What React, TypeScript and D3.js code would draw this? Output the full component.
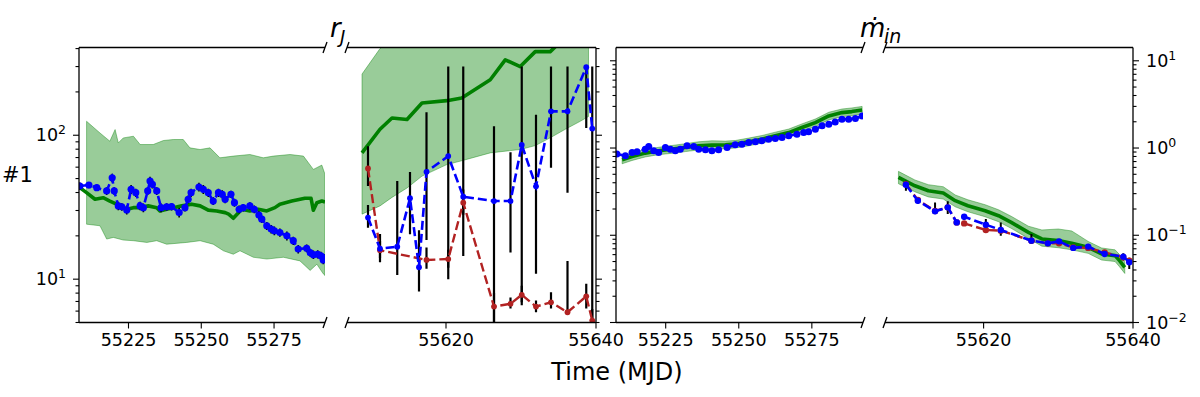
import React from "react";
import * as d3 from "d3";

// ---- r_J, first window (MJD 55208 - 55292) ----
const rjEarlyDates = [
  55208.3, 55211.4, 55214.1, 55217.5, 55219.4, 55220.1, 55221.5, 55222.7, 55224.4, 55225.9,
  55227.5, 55229.0, 55230.1, 55231.6, 55232.4, 55233.2, 55234.7, 55236.2, 55238.1, 55239.8,
  55242.4, 55244.4, 55245.5, 55246.5, 55249.2, 55250.7, 55252.4, 55254.1, 55255.9, 55257.2,
  55258.2, 55260.2, 55261.4, 55263.0, 55264.4, 55266.7, 55268.2, 55269.8, 55270.8, 55272.5,
  55274.0, 55275.1, 55277.0, 55279.4, 55281.6, 55283.3, 55286.2, 55287.4, 55288.5, 55290.0,
  55291.1, 55291.9, 55292.4,
];
const rjEarly = [
  44.4, 45.1, 43.2, 41.0, 50.6, 41.0, 32.3, 31.8, 30.3, 42.1,
  39.9, 32.3, 31.4, 41.0, 48.0, 45.6, 41.0, 31.4, 31.8, 31.9,
  29.0, 31.4, 35.9, 39.9, 43.7, 42.1, 39.9, 34.9, 39.9, 38.9,
  35.9, 38.9, 34.0, 30.6, 31.4, 32.3, 30.6, 27.9, 26.1, 23.5,
  22.3, 21.7, 21.1, 20.0, 18.5, 16.2, 16.4, 15.3, 14.8, 14.9,
  14.5, 13.6, 14.0,
];
const rjEarlyErr = [
  2.6, 2.2, 2.2, 2.6, 3.4, 2.6, 2.2, 1.9, 2.2, 3.0,
  2.6, 2.2, 2.2, 2.6, 3.4, 3.0, 2.6, 2.2, 1.9, 1.9,
  2.2, 1.9, 2.2, 2.6, 3.0, 3.0, 2.6, 2.2, 2.6, 2.6,
  2.2, 2.2, 2.2, 1.9, 1.9, 1.9, 1.9, 1.9, 1.5, 1.5,
  1.5, 1.5, 1.4, 1.4, 1.2, 1.1, 1.0, 1.0, 1.0, 1.0,
  1.0, 0.9, 0.9,
];
const rjEarlyModelDates = [
  55208.3, 55210.6, 55213.5, 55216.3, 55218.6, 55220.9, 55224.4, 55226.7, 55229.0, 55231.8,
  55234.7, 55235.8, 55238.1, 55240.4, 55243.3, 55246.7, 55249.6, 55252.4, 55255.3, 55258.2,
  55259.4, 55261.0, 55263.9, 55266.7, 55269.6, 55272.5, 55275.3, 55277.0, 55281.1, 55285.6,
  55287.7, 55288.5, 55289.7, 55291.4, 55292.5,
];
const rjEarlyModel = [
  43.2, 39.9, 35.9, 36.8, 34.9, 33.2, 30.6, 31.4, 31.4, 32.3,
  31.4, 29.8, 30.6, 31.4, 32.3, 33.2, 32.3, 30.2, 29.8, 29.0,
  28.3, 26.5, 30.6, 29.8, 30.6, 29.8, 31.4, 33.2, 34.9, 36.5,
  36.5, 30.1, 34.0, 34.9, 34.4,
];
const rjEarlyUpDates = [
  55210.6, 55215.2, 55218.6, 55220.4, 55221.5, 55223.2, 55226.7, 55229.0, 55233.5, 55237.0,
  55240.4, 55243.8, 55246.1, 55249.6, 55253.0, 55256.4, 55261.0, 55266.7, 55271.3, 55274.7,
  55280.5, 55285.1, 55288.5, 55291.4, 55292.5,
];
const rjEarlyUp = [
  125, 103.7, 90.9, 109.5, 88.5, 95.8, 98.4, 86.2, 86.2, 91.9,
  93.4, 93.4, 81.7, 79.6, 81.7, 69.7, 71.6, 73.5, 69.7, 71.6,
  73.5, 71.6, 57.9, 62.0, 53.5,
];
const rjEarlyLoDates = [
  55210.6, 55215.2, 55217.5, 55219.8, 55223.2, 55226.7, 55231.3, 55234.7, 55238.1, 55245.0,
  55249.6, 55254.1, 55257.6, 55261.0, 55263.3, 55267.9, 55272.5, 55278.2, 55283.9, 55287.4,
  55289.7, 55291.9, 55292.5,
];
const rjEarlyLo = [
  24.1, 23.5, 19.0, 19.5, 18.7, 18.5, 18.0, 18.5, 17.5, 18.0,
  18.5, 17.5, 15.75, 14.9, 15.75, 14.2, 13.8, 14.2, 13.4, 11.5,
  12.7, 10.9, 10.6,
];

// ---- second window (MJD 55607 - 55640), shared observation dates ----
const lateDates = [
  55609.6, 55611.2, 55613.5, 55615.2, 55616.4, 55617.4, 55620.3, 55622.3,
  55626.4, 55628.6, 55630.1, 55632.0, 55634.0, 55636.2, 55638.7, 55639.5,
];
const rjLate = [26.8, 16.3, 16.8, 36.5, 12.1, 55.7, 71.6, 37.4, 34.9, 34.9, 85.7, 44.2, 146.6, 146.6, 297, 111.2];
const rjLateLo = [22.8, 13.1, 10.7, 20.5, 8.2, 18.7, 10.0, 14.5, 4.0, 15.3, 6.9, 10.9, 59.4, 39.9, 112.3, 4.0];
const rjLateHi = [32.8, 20.6, 48.0, 55.5, 21.9, 144.3, 300, 300, 115.4, 76.3, 300, 139, 300, 300, 300, 300];

const rjLateRedDates = [
  55609.6, 55611.2, 55617.4, 55620.3, 55622.3, 55626.4, 55628.6,
  55630.1, 55632.0, 55634.0, 55636.2, 55638.7, 55639.5,
];
const rjLateRed = [58.8, 15.9, 13.6, 13.8, 34.0, 6.45, 6.74, 7.78, 6.45, 6.9, 5.89, 7.6, 5.16];
const rjLateRedLo = [44.4, 14.0, 11.8, 12.0, 28.0, 4.0, 6.25, 6.6, 5.89, 6.25, 5.89, 6.25, 4.0];
const rjLateRedHi = [83.9, 18.5, 16.6, 16.0, 42.0, 8.0, 7.45, 9.0, 7.1, 8.1, 13.4, 9.3, 6.2];

const rjLateModelDates = [
  55608.8, 55611.2, 55612.8, 55614.8, 55616.8, 55620.1, 55622.1, 55625.9,
  55627.9, 55629.9, 55631.9, 55633.9, 55635.9, 55637.9, 55639.0,
];
const rjLateModel = [75.4, 110, 131.8, 128.5, 167.3, 173.9, 181.2, 242.9, 334, 300, 381, 381, 480, 560, 600];
const rjLateModelLo = [28.3, 32.3, 37, 43, 52, 62.5, 66.5, 75.4, 77.5, 79.6, 84.7, 96, 110, 125, 135];
const rjLateModelHi = [266, 400, 480, 560, 640, 760, 820, 940, 1000, 1050, 1100, 1150, 1200, 1250, 1300];

// ---- mdot_in, first window ----
const mdotEarlyDates = [
  55208.3, 55211.2, 55213.5, 55215.2, 55218.0, 55219.2, 55220.9, 55222.6, 55224.9, 55226.6,
  55228.3, 55230.0, 55232.3, 55234.6, 55236.3, 55238.6, 55240.8, 55243.1, 55246.0, 55248.8,
  55251.1, 55253.4, 55255.7, 55257.9, 55260.2, 55262.5, 55264.8, 55267.1, 55269.9, 55272.2,
  55273.9, 55276.2, 55278.5, 55280.8, 55283.0, 55285.3, 55287.6, 55289.9, 55292.2,
];
const mdotEarly = [
  0.852, 0.814, 0.888, 0.905, 0.971, 1.04, 0.929, 0.888, 1.013, 0.971,
  0.929, 0.971, 1.06, 1.04, 0.971, 0.954, 0.929, 0.954, 1.013, 1.088,
  1.108, 1.156, 1.178, 1.209, 1.264, 1.284, 1.318, 1.379, 1.442, 1.504,
  1.532, 1.645, 1.795, 1.877, 1.994, 2.141, 2.141, 2.175, 2.335,
];
const mdotEarlyModelDates = [
  55210.1, 55213.5, 55218.0, 55222.6, 55227.2, 55231.7, 55236.3, 55240.8, 55245.4, 55248.8,
  55253.4, 55257.9, 55262.5, 55267.1, 55271.6, 55276.2, 55280.8, 55285.3, 55288.7, 55292.2,
];
const mdotEarlyModel = [
  0.733, 0.799, 0.874, 0.929, 0.971, 1.013, 1.06, 1.08, 1.088, 1.108,
  1.178, 1.264, 1.379, 1.504, 1.717, 1.958, 2.335, 2.548, 2.616, 2.735,
];
const mdotEarlyModelLo = [
  0.66, 0.72, 0.79, 0.84, 0.87, 0.91, 0.95, 0.97, 0.98, 1.0,
  1.06, 1.14, 1.24, 1.35, 1.55, 1.76, 2.1, 2.29, 2.35, 2.46,
];
const mdotEarlyModelHi = [
  0.81, 0.88, 0.96, 1.02, 1.07, 1.12, 1.18, 1.21, 1.2, 1.22,
  1.3, 1.39, 1.52, 1.65, 1.89, 2.15, 2.57, 2.8, 2.88, 3.0,
];

// ---- mdot_in, second window ----
const mdotLate = [0.379, 0.249, 0.188, 0.209, 0.1405, 0.163, 0.1322, 0.115, 0.0868, 0.0808, 0.0852, 0.0716, 0.0741, 0.0611, 0.0569, 0.049];
const mdotLateLo = [0.324, 0.23, 0.175, 0.175, 0.13, 0.15, 0.118, 0.0989, 0.0795, 0.077, 0.08, 0.069, 0.0685, 0.057, 0.0512, 0.0411];
const mdotLateHi = [0.421, 0.27, 0.238, 0.245, 0.15, 0.175, 0.1537, 0.1405, 0.1035, 0.085, 0.09, 0.075, 0.078, 0.065, 0.062, 0.0554];
const mdotLateRed = [0.386, 0.2535, 0.19, 0.209, 0.1405, 0.1368, 0.115, 0.1129, 0.0868, 0.0808, 0.0808, 0.0727, 0.0716, 0.0637, 0.0559, 0.0512];

const mdotLateModelDates = [
  55608.6, 55610.8, 55612.6, 55614.6, 55616.2, 55617.9, 55620.2, 55622.0, 55623.7,
  55626.0, 55627.8, 55630.0, 55631.8, 55634.0, 55635.8, 55637.6, 55638.2, 55638.9,
];
const mdotLateModel = [0.46, 0.369, 0.324, 0.305, 0.249, 0.218, 0.191, 0.1676, 0.1405, 0.108, 0.0907, 0.0868, 0.0808, 0.0727, 0.0611, 0.0584, 0.0512, 0.0429];
const mdotLateModelLo = [0.39, 0.315, 0.275, 0.26, 0.212, 0.186, 0.163, 0.143, 0.12, 0.092, 0.075, 0.072, 0.068, 0.062, 0.052, 0.05, 0.0435, 0.0365];
const mdotLateModelHi = [0.54, 0.43, 0.38, 0.36, 0.29, 0.255, 0.224, 0.196, 0.165, 0.127, 0.115, 0.118, 0.112, 0.085, 0.0715, 0.068, 0.06, 0.05];

const earlyTicks = [55225, 55250, 55275];
const lateTicks = [55620, 55640];
const earlyDomain: [number, number] = [55208, 55292.5];
const lateDomain: [number, number] = [55606.8, 55640];

// layout
const TOP = 47.5;
const BOT = 322.5;
const FONT = "DejaVu Sans";
const GREEN = "#008000";
const BAND = "rgba(0,128,0,0.4)";
const RED = "#b22222";

const yRj = d3.scaleLog().domain([5, 407]).range([BOT, TOP]);
const yMd = d3.scaleLog().domain([0.01, 14.2]).range([BOT, TOP]);

type Cfg = {
  id: string;
  x0: number;
  x1: number;
  domain: [number, number];
  y: d3.ScaleLogarithmic<number, number>;
  xticks: number[];
  spine: "left" | "right";
  labels: boolean;
  upDates: number[];
  up: number[];
  loDates: number[];
  lo: number[];
  modelDates: number[];
  model: number[];
  dates: number[];
  vals: number[];
  errLo?: number[];
  errHi?: number[];
  errW: number;
  redDates?: number[];
  red?: number[];
  redLo?: number[];
  redHi?: number[];
  r: number;
};

function supLabel(v: number) {
  const e = Math.round(Math.log10(v));
  return (
    <>
      10
      <tspan dy={-7} fontSize={12.5}>
        {e < 0 ? "\u2212" + -e : String(e)}
      </tspan>
    </>
  );
}

function Panel({ c }: { c: Cfg }) {
  const x = d3.scaleLinear().domain(c.domain).range([c.x0, c.x1]);
  const y = c.y;
  const pts = (ds: number[], vs: number[]) => ds.map((d, i) => [x(d), y(vs[i])] as [number, number]);
  const line = d3.line<[number, number]>();
  const band = [...pts(c.upDates, c.up), ...pts(c.loDates, c.lo).reverse()];
  const yt = y.ticks();
  const isMajor = (v: number) => Math.abs(Math.log10(v) - Math.round(Math.log10(v))) < 1e-6;
  const sx = c.spine === "left" ? c.x0 : c.x1;
  const dir = c.spine === "left" ? -1 : 1;
  const breakX = c.spine === "left" ? c.x1 : c.x0;

  return (
    <g>
      <defs>
        <clipPath id={c.id}>
          <rect x={c.x0} y={TOP} width={c.x1 - c.x0} height={BOT - TOP} />
        </clipPath>
      </defs>
      <g clipPath={`url(#${c.id})`}>
        <path d={line(band) + "Z"} fill={BAND} stroke={BAND} strokeWidth={1} />
        <path d={line(pts(c.modelDates, c.model)) || ""} fill="none" stroke={GREEN} strokeWidth={3.6} strokeLinejoin="round" />
        {c.errLo &&
          c.dates.map((d, i) => (
            <line key={"e" + i} x1={x(d)} x2={x(d)} y1={y(c.errLo![i])} y2={y(c.errHi![i])} stroke="#000" strokeWidth={c.errW} />
          ))}
        {c.redLo &&
          c.redDates!.map((d, i) => (
            <line key={"re" + i} x1={x(d)} x2={x(d)} y1={y(c.redLo![i])} y2={y(c.redHi![i])} stroke="#000" strokeWidth={c.errW} />
          ))}
        {c.red && (
          <g>
            <path d={line(pts(c.redDates!, c.red)) || ""} fill="none" stroke={RED} strokeWidth={2.4} strokeDasharray="9,4" />
            {c.redDates!.map((d, i) => (
              <circle key={"r" + i} cx={x(d)} cy={y(c.red![i])} r={c.r} fill={RED} />
            ))}
          </g>
        )}
        <path d={line(pts(c.dates, c.vals)) || ""} fill="none" stroke="#0000ff" strokeWidth={2.6} strokeDasharray="9,4" />
        {c.dates.map((d, i) => (
          <circle key={"b" + i} cx={x(d)} cy={y(c.vals[i])} r={c.r} fill="#0000ff" />
        ))}
      </g>
      {/* spines and break marks */}
      <g stroke="#000" strokeWidth={1.3} fill="none">
        <line x1={c.x0} x2={c.x1} y1={TOP} y2={TOP} />
        <line x1={c.x0} x2={c.x1} y1={BOT} y2={BOT} />
        <line x1={sx} x2={sx} y1={TOP} y2={BOT} />
        <line x1={breakX - 2} x2={breakX + 2} y1={TOP + 5.5} y2={TOP - 5.5} />
        <line x1={breakX - 2} x2={breakX + 2} y1={BOT + 5.5} y2={BOT - 5.5} />
      </g>
      {/* y ticks */}
      <g stroke="#000" strokeWidth={1.1}>
        {yt.map((v, i) => (
          <line key={"yt" + i} x1={sx} x2={sx + dir * (isMajor(v) ? 6 : 3.5)} y1={y(v)} y2={y(v)} />
        ))}
      </g>
      {c.labels &&
        yt.filter(isMajor).map((v, i) => (
          <text
            key={"yl" + i}
            x={sx + dir * 13}
            y={y(v) + 6}
            fontSize={17.5}
            fontFamily={FONT}
            textAnchor={c.spine === "left" ? "end" : "start"}
          >
            {supLabel(v)}
          </text>
        ))}
      {/* x ticks */}
      {c.xticks.map((t) => (
        <g key={"xt" + t}>
          <line x1={x(t)} x2={x(t)} y1={BOT} y2={BOT + 6} stroke="#000" strokeWidth={1.1} />
          <text x={x(t)} y={345.5} fontSize={17.5} fontFamily={FONT} textAnchor="middle">
            {t}
          </text>
        </g>
      ))}
    </g>
  );
}

const panels: Cfg[] = [
  {
    id: "c1", x0: 79, x1: 325, domain: earlyDomain, y: yRj, xticks: earlyTicks, spine: "left", labels: true,
    upDates: rjEarlyUpDates, up: rjEarlyUp, loDates: rjEarlyLoDates, lo: rjEarlyLo,
    modelDates: rjEarlyModelDates, model: rjEarlyModel,
    dates: rjEarlyDates, vals: rjEarly,
    errLo: rjEarly.map((v, i) => v - rjEarlyErr[i]),
    errHi: rjEarly.map((v, i) => v + rjEarlyErr[i]),
    errW: 1.6,
    r: 3.6,
  },
  {
    id: "c2", x0: 347, x1: 596, domain: lateDomain, y: yRj, xticks: lateTicks, spine: "right", labels: false,
    upDates: rjLateModelDates, up: rjLateModelHi, loDates: rjLateModelDates, lo: rjLateModelLo,
    modelDates: rjLateModelDates, model: rjLateModel,
    dates: lateDates, vals: rjLate, errLo: rjLateLo, errHi: rjLateHi, errW: 2.2,
    redDates: rjLateRedDates, red: rjLateRed, redLo: rjLateRedLo, redHi: rjLateRedHi,
    r: 2.9,
  },
  {
    id: "c3", x0: 616, x1: 863, domain: earlyDomain, y: yMd, xticks: earlyTicks, spine: "left", labels: false,
    upDates: mdotEarlyModelDates, up: mdotEarlyModelHi, loDates: mdotEarlyModelDates, lo: mdotEarlyModelLo,
    modelDates: mdotEarlyModelDates, model: mdotEarlyModel,
    dates: mdotEarlyDates, vals: mdotEarly, errW: 1.6,
    r: 3.5,
  },
  {
    id: "c4", x0: 885, x1: 1133, domain: lateDomain, y: yMd, xticks: lateTicks, spine: "right", labels: true,
    upDates: mdotLateModelDates, up: mdotLateModelHi, loDates: mdotLateModelDates, lo: mdotLateModelLo,
    modelDates: mdotLateModelDates, model: mdotLateModel,
    dates: lateDates, vals: mdotLate, errLo: mdotLateLo, errHi: mdotLateHi, errW: 2.0,
    redDates: lateDates, red: mdotLateRed,
    r: 3.2,
  },
];

export default function App() {
  return (
    <svg width={1200} height={397} style={{ position: "absolute", left: 0, top: 0, background: "#fff" }}>
      {panels.map((c) => (
        <Panel key={c.id} c={c} />
      ))}
      <text x={2} y={182} fontSize={21} fontFamily={FONT}>
        #1
      </text>
      <text x={617} y={380} fontSize={24} fontFamily={FONT} textAnchor="middle">
        Time (MJD)
      </text>
      <g fontFamily={FONT} fontStyle="italic">
        <text x={330} y={37} fontSize={26}>r</text>
        <text x={340} y={43} fontSize={18}>J</text>
        <text x={860} y={37} fontSize={26}>{"\u1E41"}</text>
        <text x={884} y={43} fontSize={19}>in</text>
      </g>
    </svg>
  );
}
